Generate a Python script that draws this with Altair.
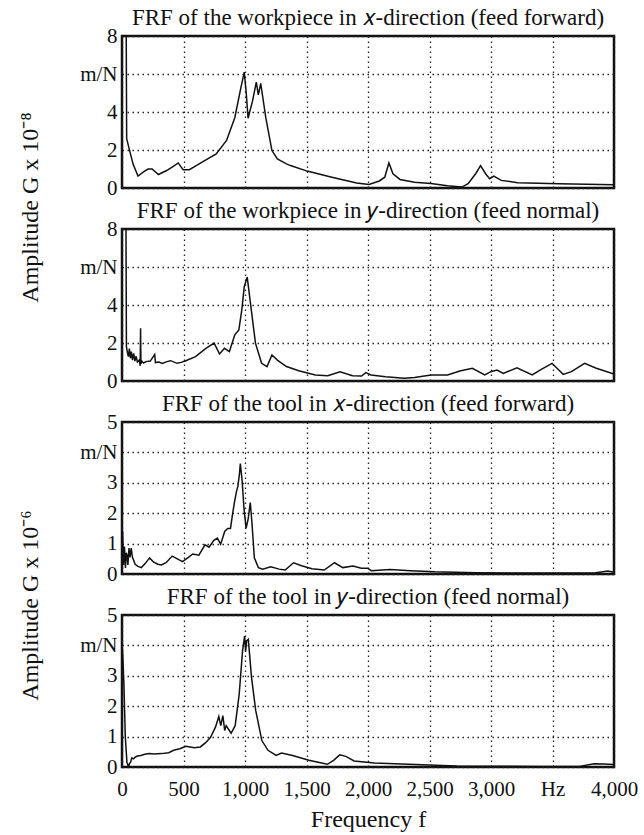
import altair as alt
import pandas as pd

# ---- data ----
wx_f = [25, 34, 38, 57, 90, 130, 175, 212, 245, 296, 363, 420, 457, 497, 547, 610, 665, 766, 850, 917,
        967, 994, 1010, 1025, 1061, 1092, 1108, 1128, 1169, 1219, 1263, 1300, 1337, 1370, 1505, 1706,
        1908, 2008, 2092, 2136, 2170, 2203, 2260, 2378, 2512, 2647, 2764, 2814, 2875, 2915, 2956, 2989,
        3023, 3083, 3217, 3553, 4000]
wx_a = [12, 8.5, 2.6, 2.1, 1.26, 0.63, 0.85, 1.0, 1.0, 0.71, 0.92, 1.15, 1.32, 0.96, 0.96, 1.2, 1.41,
        1.79, 2.5, 3.7, 5.3, 6.1, 5.0, 3.67, 4.57, 5.57, 4.9, 5.5, 3.7, 1.97, 1.53, 1.4, 1.27, 1.18,
        0.89, 0.57, 0.26, 0.19, 0.37, 0.57, 1.32, 0.75, 0.45, 0.3, 0.24, 0.12, 0.05, 0.23, 0.75, 1.18,
        0.75, 0.49, 0.63, 0.4, 0.28, 0.23, 0.17]

wy_f = [30, 36, 44, 52, 60, 68, 76, 85, 95, 105, 115, 125, 140, 148, 151, 154, 160, 175, 195, 230,
        266, 272, 300, 329, 365, 396, 447, 480, 514, 598, 682, 749, 793, 833, 873, 917, 950, 974, 994,
        1018, 1041, 1085, 1135, 1179, 1219, 1263, 1337, 1437, 1572, 1673, 1773, 1874, 1948, 1982, 2025,
        2143, 2294, 2378, 2512, 2647, 2747, 2848, 2949, 2999, 3049, 3100, 3211, 3335, 3402, 3496, 3587,
        3654, 3761, 3856, 4000]
wy_a = [12, 1.8, 1.5, 1.28, 1.7, 1.2, 1.55, 1.1, 1.45, 1.05, 1.3, 1.0, 1.1, 0.8, 2.78, 0.9, 1.05, 0.95,
        1.02, 1.05, 1.4, 0.97, 1.0, 0.93, 1.02, 1.07, 0.93, 0.98, 1.05, 1.28, 1.72, 1.99, 1.42, 1.72,
        1.55, 2.43, 2.69, 3.74, 4.97, 5.47, 4.27, 1.99, 0.93, 0.76, 1.37, 1.1, 0.76, 0.54, 0.32, 0.28,
        0.49, 0.28, 0.26, 0.44, 0.32, 0.23, 0.14, 0.19, 0.32, 0.32, 0.53, 0.67, 0.32, 0.49, 0.58, 0.4,
        0.7, 0.32, 0.58, 0.93, 0.35, 0.49, 0.93, 0.67, 0.37]

tx_f = [5, 12, 20, 28, 35, 40, 48, 57, 65, 75, 85, 107, 130, 157, 190, 224, 255, 291, 320, 358, 408,
        450, 491, 540, 575, 625, 675, 708, 745, 775, 802, 835, 859, 882, 900, 916, 930, 942, 955, 962,
        976, 992, 1009, 1026, 1043, 1056, 1076, 1109, 1143, 1210, 1277, 1327, 1394, 1460, 1544, 1644,
        1728, 1795, 1878, 1945, 1995, 2028, 2179, 2346, 2546, 2881, 3382, 3850, 3950, 4000]
tx_a = [1.4, 0.3, 0.9, 0.2, 0.7, 0.64, 0.3, 0.85, 0.55, 0.85, 0.55, 0.32, 0.25, 0.21, 0.35, 0.53, 0.4,
        0.32, 0.3, 0.37, 0.59, 0.5, 0.41, 0.55, 0.66, 0.62, 0.96, 0.88, 1.1, 1.18, 0.98, 1.4, 1.5, 1.5,
        2.0, 2.4, 2.7, 2.88, 3.3, 3.63, 3.1, 2.14, 1.5, 1.82, 2.35, 1.71, 0.53, 0.21, 0.16, 0.24, 0.16,
        0.13, 0.37, 0.27, 0.17, 0.13, 0.37, 0.21, 0.26, 0.19, 0.19, 0.11, 0.15, 0.11, 0.07, 0.04, 0.03,
        0.04, 0.1, 0.06]

ty_f = [3, 8, 15, 27, 40, 53, 62, 70, 80, 93, 110, 125, 153, 185, 220, 260, 320, 380, 420, 470, 520,
        587, 637, 680, 720, 760, 787, 803, 820, 835, 847, 887, 920, 953, 980, 997, 1005, 1013, 1027,
        1053, 1087, 1137, 1187, 1253, 1297, 1387, 1520, 1670, 1720, 1770, 1820, 1887, 2053, 2387, 2720,
        3387, 3720, 3837, 3920, 4000]
ty_a = [3.9, 3.5, 2.8, 0.98, 0.16, 0.0, 0.12, 0.16, 0.3, 0.27, 0.33, 0.36, 0.38, 0.42, 0.44, 0.43,
        0.44, 0.47, 0.55, 0.6, 0.68, 0.63, 0.66, 0.8, 0.98, 1.31, 1.66, 1.36, 1.69, 1.2, 1.36, 1.11,
        1.36, 2.4, 3.82, 4.31, 3.8, 4.15, 4.2, 2.95, 1.86, 0.87, 0.55, 0.38, 0.46, 0.38, 0.22, 0.09,
        0.22, 0.4, 0.35, 0.2, 0.13, 0.08, 0.03, 0.02, 0.02, 0.11, 0.1, 0.08]

x_ticks = [0, 500, 1000, 1500, 2000, 2500, 3000, 3500, 4000]
y_ticks_wp = [0, 2, 4, 6, 8]
y_ticks_tool = [0, 1, 2, 3, 4, 5]

titles = [
    "FRF of the workpiece in \U0001D465-direction (feed forward)",
    "FRF of the workpiece in \U0001D466-direction (feed normal)",
    "FRF of the tool in \U0001D465-direction (feed forward)",
    "FRF of the tool in \U0001D466-direction (feed normal)",
]

FONT = "Liberation Serif"
W = 492
H = 152


def panel(f, a, title, ymax, yticks, unit_at, ytitle="", ytitleY=0, show_x=False):
    df = pd.DataFrame({"f": f, "a": a})
    grid = dict(grid=True, gridColor="#222", gridDash=[1.5, 3.5], gridWidth=1.3,
                domain=False, ticks=False)
    if show_x:
        xaxis = alt.Axis(values=x_ticks, title="Frequency f", labelFont=FONT, labelFontSize=21,
                         labelColor="#111", labelPadding=11, titleFont=FONT, titleFontSize=24,
                         titleFontWeight="normal", titleColor="#111", titlePadding=8,
                         labelExpr="datum.value == 3500 ? 'Hz' : format(datum.value, ',')",
                         labelFlush=False, **grid)
    else:
        xaxis = alt.Axis(values=x_ticks, labels=False, title=None, **grid)
    yargs = dict(values=yticks, labelFont=FONT, labelFontSize=21, labelColor="#111", labelPadding=5,
                 labelExpr=f"datum.value == {unit_at} ? 'm/N' : datum.label", labelFlush=False,
                 **grid)
    if ytitle:
        yaxis = alt.Axis(title=ytitle, titleFont=FONT, titleFontSize=24, titleFontWeight="normal",
                         titleColor="#111", titleX=-92, titleY=ytitleY, titleAngle=-90,
                         titleBaseline="middle", **yargs)
    else:
        yaxis = alt.Axis(title=None, **yargs)
    return alt.Chart(df).mark_line(color="#111", strokeWidth=1.5, clip=True).encode(
        x=alt.X("f:Q", scale=alt.Scale(domain=[0, 4000], nice=False, zero=False), axis=xaxis),
        y=alt.Y("a:Q", scale=alt.Scale(domain=[0, ymax], nice=False), axis=yaxis),
    ).properties(
        width=W, height=H,
        title=alt.TitleParams(title, font=FONT, fontSize=23, fontWeight="normal", color="#111",
                              offset=-5, anchor="middle"),
    )


p1 = panel(wx_f, wx_a, titles[0], 8, y_ticks_wp, 6, "Amplitude G x 10\u207B\u2078", 171)
p2 = panel(wy_f, wy_a, titles[1], 8, y_ticks_wp, 6)
p3 = panel(tx_f, tx_a, titles[2], 5, y_ticks_tool, 4, "Amplitude G x 10\u207B\u2076", 183)
p4 = panel(ty_f, ty_a, titles[3], 5, y_ticks_tool, 4, show_x=True)

chart = alt.vconcat(p1, p2, p3, p4, spacing=41, bounds="flush").configure_view(
    stroke="#111", strokeWidth=2.5
).properties(background="white", padding={"left": 16, "top": 5, "right": 5, "bottom": 5})

chart.save("out.html", embed_options={"renderer": "svg", "actions": False})
